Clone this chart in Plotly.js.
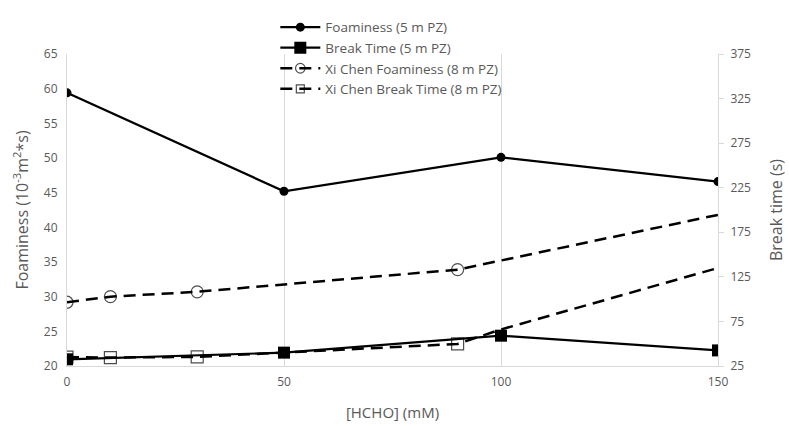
<!DOCTYPE html>
<html><head><meta charset="utf-8">
<script src="https://cdn.plot.ly/plotly-3.0.1.min.js"></script>
<style>html,body{margin:0;padding:0;background:#fff}#chart{width:789px;height:426px}</style>
</head><body><div id="chart"></div>
<script>
const xMain = [0, 50, 100, 150];
const foaminess5m = [59.4, 45.2, 50.1, 46.6];
const breakTime5m = [32.5, 40, 59, 42.5];
const xChenFoam = [0, 10, 30, 90, 150];
const chenFoaminess = [29.2, 30.0, 30.7, 33.9, 41.8];
const xChenBreak = [0, 10, 30, 90, 100, 150];
const chenBreakTime = [35, 34.5, 35.2, 49.8, 66, 135];
const leftTicks = [20, 25, 30, 35, 40, 45, 50, 55, 60, 65];
const rightTicks = [25, 75, 125, 175, 225, 275, 325, 375];
const xTicks = [0, 50, 100, 150];

const grey = '#595959';
const traces = [
  {x: xMain, y: foaminess5m, name: 'Foaminess (5 m PZ)', mode: 'lines+markers',
   line: {color: '#000', width: 2.2}, marker: {symbol: 'circle', size: 9, color: '#000'}},
  {x: xMain, y: breakTime5m, name: 'Break Time (5 m PZ)', yaxis: 'y2', mode: 'lines+markers',
   line: {color: '#000', width: 2.2}, marker: {symbol: 'square', size: 12, color: '#000'}},
  {x: xChenFoam, y: chenFoaminess, name: 'Xi Chen Foaminess (8 m PZ)', mode: 'lines+markers',
   line: {color: '#000', width: 2.5, dash: '12px,7px'},
   marker: {symbol: 'circle-open', size: [12,12,12,12,0], color: '#000', line: {width: 1.2}}},
  {x: xChenBreak, y: chenBreakTime, name: 'Xi Chen Break Time (8 m PZ)', yaxis: 'y2', mode: 'lines+markers',
   line: {color: '#000', width: 2.5, dash: '12px,7px'},
   marker: {symbol: 'square-open', size: [12,12,12,12,0,0], color: '#000', line: {width: 1.2}}}
];

const layout = {
  width: 789, height: 426,
  margin: {l: 67, r: 71, t: 46, b: 60},
  paper_bgcolor: '#fff', plot_bgcolor: '#fff',
  font: {family: '"Open Sans", sans-serif', color: grey, size: 12},
  showlegend: true,
  legend: {x: 0.32, xanchor: 'left', y: 1.135, yanchor: 'top', bgcolor: 'rgba(0,0,0,0)',
    font: {size: 13.5, color: grey}, itemwidth: 40},
  xaxis: {range: [0, 150], tickvals: xTicks, showgrid: true, gridcolor: '#d9d9d9',
    zeroline: false, showline: true, linecolor: '#d9d9d9', ticks: '', ticklabelstandoff: 5,
    tickfont: {size: 12, color: grey},
    title: {text: '[HCHO] (mM)', font: {size: 15, color: grey}, standoff: 18}},
  yaxis: {range: [20, 65], tickvals: leftTicks, showgrid: false, zeroline: false, showline: true, linecolor: '#d9d9d9',
    ticks: '', ticklabelstandoff: 6, tickfont: {size: 12, color: grey},
    title: {text: 'Foaminess (10<sup>-3</sup>m<sup>2</sup>*s)', font: {size: 16, color: grey}, standoff: 11}},
  yaxis2: {range: [25, 375], tickvals: rightTicks, overlaying: 'y', side: 'right', showgrid: false, zeroline: false,
    showline: true, linecolor: '#d9d9d9', ticks: 'outside', ticklen: 5, tickcolor: '#d9d9d9',
    ticklabelstandoff: 4, tickfont: {size: 12, color: grey},
    title: {text: 'Break time (s)', font: {size: 16, color: grey}, standoff: 20}}
};
Plotly.newPlot('chart', traces, layout, {displayModeBar: false});
</script></body></html>
